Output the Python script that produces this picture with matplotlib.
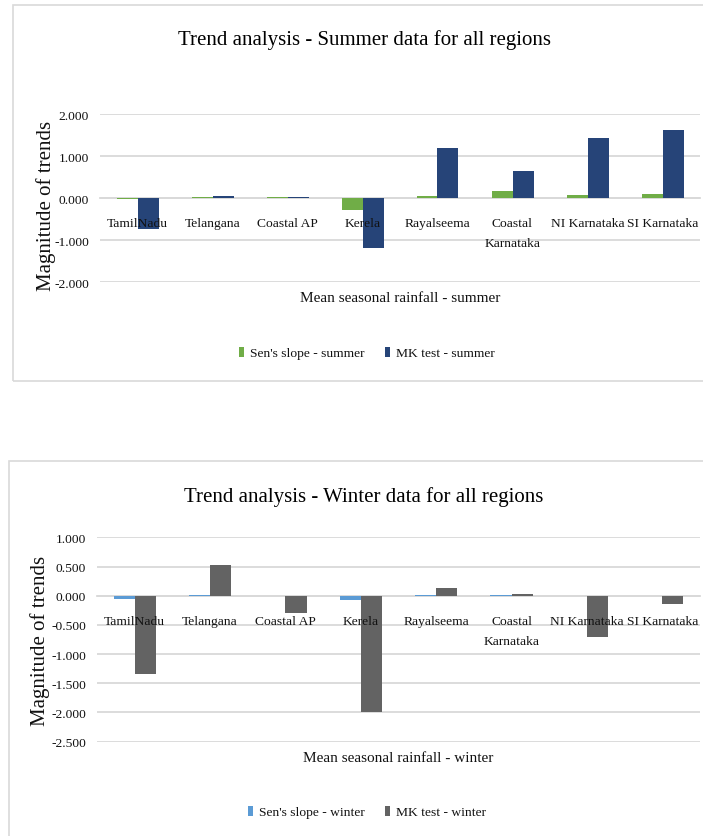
import matplotlib
matplotlib.use("Agg")
import matplotlib.pyplot as plt
from matplotlib.patches import Rectangle
import numpy as np

plt.rcParams['font.family'] = ['Liberation Serif', 'DejaVu Serif']

regions = ["TamilNadu", "Telangana", "Coastal AP", "Kerela", "Rayalseema",
           "Coastal\nKarnataka", "NI Karnataka", "SI Karnataka"]

sen_summer = [-0.03, 0.03, 0.02, -0.29, 0.04, 0.16, 0.06, 0.09]
mk_summer = [-0.74, 0.04, 0.02, -1.19, 1.18, 0.64, 1.42, 1.61]

sen_winter = [-0.06, 0.01, -0.01, -0.065, 0.01, 0.01, -0.01, -0.01]
mk_winter = [-1.34, 0.53, -0.30, -2.00, 0.13, 0.03, -0.71, -0.14]

summer_ticks = [2.0, 1.0, 0.0, -1.0, -2.0]
winter_ticks = [1.0, 0.5, 0.0, -0.5, -1.0, -1.5, -2.0, -2.5]

W, H = 703, 837
fig = plt.figure(figsize=(W / 100, H / 100), dpi=100)

def fx(px):
    return px / W

def fy(py):
    return 1 - py / H

# chart boxes
for (x0, y0, x1, y1) in [(12.5, 6, 720, 381.5), (9, 462, 720, 860)]:
    fig.patches.append(Rectangle((fx(x0), fy(y1)), fx(x1) - fx(x0), fy(y0) - fy(y1),
                                 transform=fig.transFigure, fill=False,
                                 edgecolor='#d9d9d9', linewidth=1.2))

grid_c = '#d9d9d9'
txt_c = '#111111'
bw = 0.28


def make_chart(rect, sen, mk, ticks, ylim, c_sen, c_mk, title, xlabel,
               lab_sen, lab_mk, title_y, xlabel_y, leg_y, ylab_pos):
    ax = fig.add_axes(rect)
    x = np.arange(len(regions))
    for t in ticks:
        ax.axhline(t, color=grid_c, linewidth=1.3, zorder=0.5)
    b1 = ax.bar(x - bw / 2, sen, bw, color=c_sen, label=lab_sen, zorder=2)
    b2 = ax.bar(x + bw / 2, mk, bw, color=c_mk, label=lab_mk, zorder=2)
    ax.set_axisbelow(False)
    ax.set_xlim(-0.5, len(regions) - 0.5)
    ax.set_ylim(*ylim)
    ax.set_yticks(ticks)
    ax.set_yticklabels([f"{t:.3f}" for t in ticks])
    for s in ['top', 'right', 'left']:
        ax.spines[s].set_visible(False)
    ax.spines['bottom'].set_position(('data', 0))
    ax.spines['bottom'].set_color(grid_c)
    ax.spines['bottom'].set_linewidth(1.3)
    ax.spines['bottom'].set_zorder(1)
    ax.set_xticks(x)
    ax.set_xticklabels(regions)
    ax.tick_params(axis='x', length=0, pad=13.6, labelsize=9.7, labelcolor=txt_c)
    ax.tick_params(axis='y', length=0, pad=8, labelsize=9.7, labelcolor=txt_c)
    for lbl in ax.get_xticklabels():
        lbl.set_linespacing(1.9)
    ax.set_ylabel("Magnitude of trends", fontsize=15, color=txt_c)
    ax.yaxis.set_label_coords(*ylab_pos)
    ax.set_facecolor('none')
    fig.text(fx(364), fy(title_y), title, ha='center', va='center',
             fontsize=15, color='#000000')
    fig.text(rect[0] + rect[2] / 2, fy(xlabel_y), xlabel, ha='center',
             va='center', fontsize=11, color=txt_c)
    fig.legend(handles=[b1, b2], loc='center', bbox_to_anchor=(fx(367), fy(leg_y)),
               ncol=2, frameon=False, fontsize=9.7, handlelength=0.4,
               handleheight=0.75, handletextpad=0.45, columnspacing=1.5,
               labelcolor=txt_c)
    return ax


make_chart([fx(100), fy(283), fx(700) - fx(100), fy(115) - fy(283)],
           sen_summer, mk_summer, summer_ticks, (-2.0, 2.0),
           '#70ad47', '#264478',
           "Trend analysis - Summer data for all regions",
           "Mean seasonal rainfall - summer",
           "Sen's slope - summer", "MK test - summer",
           40, 299, 354, (-0.073, 0.458))

make_chart([fx(97), fy(742.5), fx(700) - fx(97), fy(538.4) - fy(742.5)],
           sen_winter, mk_winter, winter_ticks, (-2.5, 1.0),
           '#5b9bd5', '#636363',
           "Trend analysis - Winter data for all regions",
           "Mean seasonal rainfall - winter",
           "Sen's slope - winter", "MK test - winter",
           497, 759, 813, (-0.078, 0.5))

fig.savefig("out.png", dpi=100)
